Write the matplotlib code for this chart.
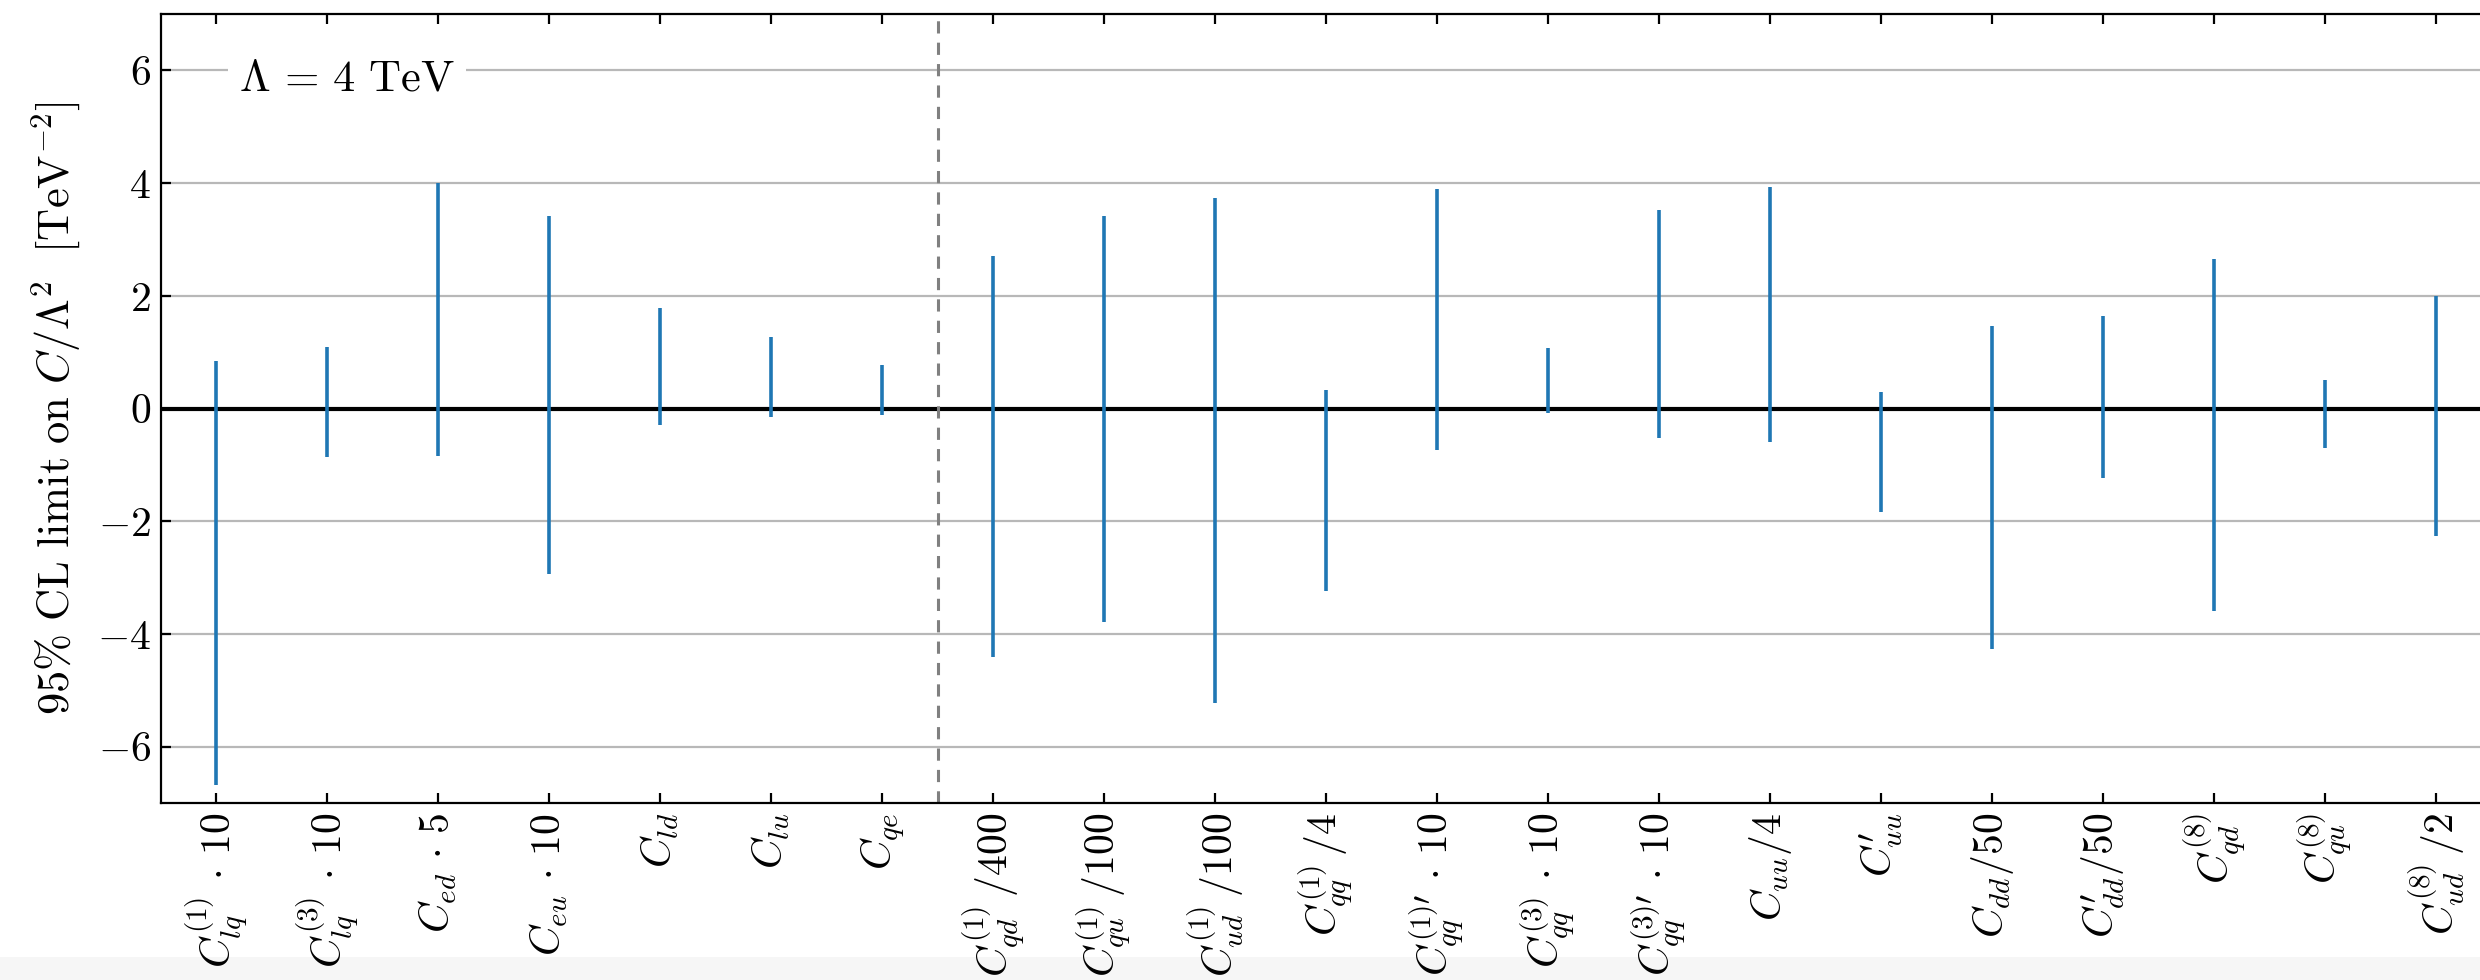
import numpy as np
import matplotlib
matplotlib.use("Agg")
import matplotlib.pyplot as plt
from matplotlib.patches import Rectangle

plt.rcParams["mathtext.fontset"] = "cm"
plt.rcParams["font.family"] = "serif"
plt.rcParams["font.serif"] = ["cmr10", "DejaVu Serif"]
plt.rcParams["axes.formatter.use_mathtext"] = True

# operator labels (with the rescaling applied in the plot)
labels = [
    r"$C_{lq}^{(1)}\,\cdot\,10$",
    r"$C_{lq}^{(3)}\,\cdot\,10$",
    r"$C_{ed}\,\cdot\,5$",
    r"$C_{eu}\,\cdot\,10$",
    r"$C_{ld}$",
    r"$C_{lu}$",
    r"$C_{qe}$",
    r"$C_{qd}^{(1)}\,/400$",
    r"$C_{qu}^{(1)}\,/100$",
    r"$C_{ud}^{(1)}\,/100$",
    r"$C_{qq}^{(1)}\,/4$",
    r"$C_{qq}^{(1)\prime}\,\cdot\,10$",
    r"$C_{qq}^{(3)}\,\cdot\,10$",
    r"$C_{qq}^{(3)\prime}\,\cdot\,10$",
    r"$C_{uu}/4$",
    r"$C_{uu}^{\prime}$",
    r"$C_{dd}/50$",
    r"$C_{dd}^{\prime}/50$",
    r"$C_{qd}^{(8)}$",
    r"$C_{qu}^{(8)}$",
    r"$C_{ud}^{(8)}\,/2$",
]

# 95% CL intervals [TeV^-2]
lower = [-6.68, -0.86, -0.85, -2.94, -0.29, -0.15, -0.12,
         -4.40, -3.78, -5.23, -3.24, -0.74, -0.08, -0.52,
         -0.59, -1.84, -4.26, -1.24, -3.59, -0.70, -2.27]
upper = [0.84, 1.09, 4.00, 3.42, 1.79, 1.27, 0.78,
         2.71, 3.42, 3.73, 0.33, 3.89, 1.07, 3.53,
         3.93, 0.30, 1.46, 1.65, 2.65, 0.51, 1.99]

n_lepton = 7
yticks = [-6, -4, -2, 0, 2, 4, 6]

fig = plt.figure(figsize=(12.4, 4.9), dpi=200)
ax = fig.add_axes([0.0648, 0.1806, 0.94, 0.805])

x = np.arange(len(labels))

ax.set_yticks(yticks)
ax.yaxis.grid(True, color="#b8b8b8", linewidth=0.8)
ax.set_axisbelow(True)

ax.axhline(0, color="black", linewidth=1.5, zorder=2)
ax.axvline(n_lepton - 0.5, color="#808080", linestyle=(0, (4, 3)),
           linewidth=1.1, zorder=2)

ax.vlines(x, lower, upper, color="#1f77b4", linewidth=1.3, zorder=3)

ax.set_xlim(-0.5, len(labels) - 0.5)
ax.set_ylim(-7, 7)
ax.set_xticks(x)
ax.set_xticklabels(labels, rotation=90, fontsize=15)

ax.tick_params(direction="in", top=True, right=True, length=3.6,
               width=0.8, labelsize=15)
for spine in ax.spines.values():
    spine.set_linewidth(0.8)

ax.set_ylabel(r"$\mathrm{95\%\ CL\ limit\ on}\ C/\Lambda^2\ \ [\mathrm{TeV}^{-2}]$",
              fontsize=16, labelpad=5)

ax.text(0.08, 0.917, r"$\Lambda\,=\,4\ \mathrm{TeV}$", transform=ax.transAxes,
        ha="center", va="center", fontsize=16, zorder=4,
        bbox=dict(boxstyle="square,pad=0.25", fc="white", ec="none"))

# light band at the bottom of the screenshot
fig.patches.append(Rectangle((0, 0), 1, 23 / 980, transform=fig.transFigure,
                             facecolor="#f6f6f6", edgecolor="none", zorder=-1))

fig.savefig("out.png", dpi=200)
